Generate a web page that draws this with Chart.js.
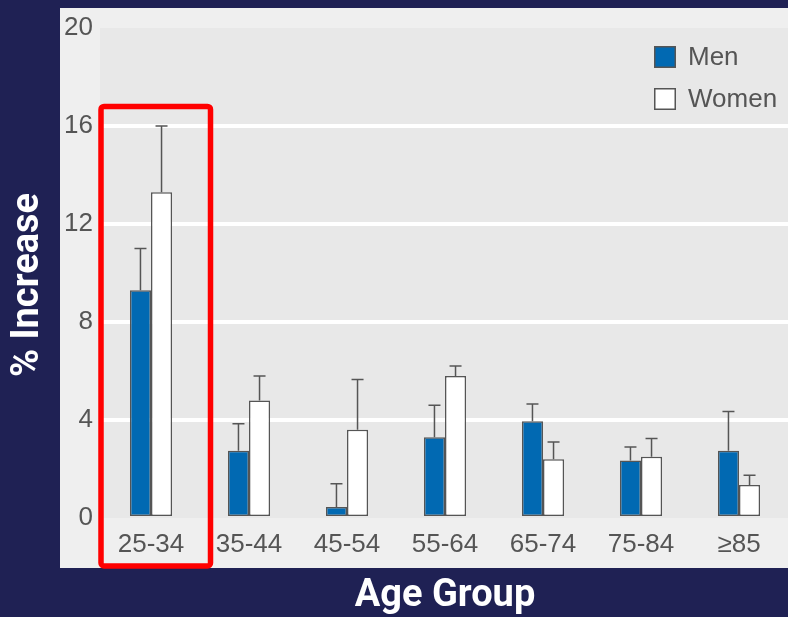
<!DOCTYPE html>
<html>
<head>
<meta charset="utf-8">
<script src="https://cdn.jsdelivr.net/npm/chart.js@4.4.1/dist/chart.umd.min.js"></script>
<style>
  html, body { margin: 0; padding: 0; background: #1f2154; }
  #wrap { width: 788px; height: 617px; }
</style>
</head>
<body>
<div id="wrap"><canvas id="c" width="788" height="617"></canvas></div>
<script>
// Percentage increase by age group, with upper error limits
const ageGroups  = ['25-34', '35-44', '45-54', '55-64', '65-74', '75-84', '≥85'];
const menValues  = [9.3, 2.75, 0.45, 3.3, 3.95, 2.35, 2.75];
const menUpper   = [11.0, 3.85, 1.4, 4.6, 4.65, 2.9, 4.35];
const womenValues = [13.3, 4.8, 3.6, 5.8, 2.4, 2.5, 1.35];
const womenUpper  = [16.0, 5.8, 5.65, 6.2, 3.1, 3.25, 1.75];
const yTicks = [0, 4, 8, 12, 16, 20];

const NAVY = '#1f2154';
const INK = '#555555';
const TICK_FONT = "'Liberation Sans Narrow', 'Liberation Sans', sans-serif";
const TICK_SIZE = 26;
const TITLE_FONT = "Roboto, 'Liberation Sans', sans-serif";

// Page, panel and plot backgrounds
const backdrop = {
  id: 'backdrop',
  beforeDraw(chart) {
    const { ctx, chartArea: a } = chart;
    ctx.save();
    ctx.fillStyle = NAVY;
    ctx.fillRect(0, 0, chart.width, chart.height);
    ctx.fillStyle = '#efefef';
    ctx.fillRect(a.left - 42, a.top - 20, chart.width - (a.left - 42), a.bottom - a.top + 70);
    ctx.fillStyle = '#e8e8e8';
    ctx.fillRect(a.left - 2, a.top, a.right - a.left + 2, a.bottom - a.top);
    ctx.restore();
  }
};

// Upper error whiskers on each bar
const whiskers = {
  id: 'whiskers',
  afterDatasetsDraw(chart) {
    const { ctx } = chart;
    const y = chart.scales.y;
    ctx.save();
    ctx.strokeStyle = INK;
    ctx.lineWidth = 1.5;
    chart.data.datasets.forEach((ds, d) => {
      const meta = chart.getDatasetMeta(d);
      meta.data.forEach((bar, i) => {
        const top = y.getPixelForValue(ds.upper[i]);
        ctx.beginPath();
        ctx.moveTo(bar.x, bar.y);
        ctx.lineTo(bar.x, top);
        ctx.moveTo(bar.x - 6, top);
        ctx.lineTo(bar.x + 6, top);
        ctx.stroke();
      });
    });
    ctx.restore();
  }
};

// Legend box in the top-right corner, title on the left, highlight frame
const overlay = {
  id: 'overlay',
  afterDraw(chart) {
    const { ctx, chartArea: a } = chart;
    const x = chart.scales.x, y = chart.scales.y;
    ctx.save();

    // legend
    ctx.font = TICK_SIZE + 'px ' + TICK_FONT;
    ctx.textBaseline = 'middle';
    ctx.textAlign = 'left';
    chart.data.datasets.forEach((ds, i) => {
      const bx = a.right - 134;
      const by = a.top + 18 + i * 42;
      ctx.fillStyle = ds.backgroundColor;
      ctx.fillRect(bx, by, 22, 22);
      ctx.strokeStyle = INK;
      ctx.lineWidth = 1.5;
      ctx.strokeRect(bx + 0.75, by + 0.75, 20.5, 20.5);
      ctx.fillStyle = INK;
      ctx.fillText(ds.label, bx + 34, by + 12);
    });

    // y-axis title
    ctx.translate(28.5, 285);
    ctx.rotate(-Math.PI / 2);
    ctx.font = 'bold 38px ' + TITLE_FONT;
    ctx.fillStyle = '#ffffff';
    ctx.textAlign = 'center';
    ctx.textBaseline = 'middle';
    ctx.fillText('% Increase', 0, 0);
    ctx.setTransform(1, 0, 0, 1, 0, 0);

    // red frame around the youngest group
    const cx = x.getPixelForValue(0);
    const left = cx - 50, right = cx + 59.5;
    const top = y.getPixelForValue(16.8), bottom = a.bottom + 48;
    ctx.strokeStyle = '#ff0000';
    ctx.lineWidth = 5.5;
    ctx.beginPath();
    ctx.roundRect(left, top, right - left, bottom - top, 3);
    ctx.stroke();
    ctx.restore();
  }
};

new Chart(document.getElementById('c'), {
  type: 'bar',
  data: {
    labels: ageGroups,
    datasets: [
      {
        label: 'Men',
        data: menValues,
        upper: menUpper,
        backgroundColor: '#0169b2',
        borderColor: INK,
        borderWidth: 1.5,
        borderSkipped: false
      },
      {
        label: 'Women',
        data: womenValues,
        upper: womenUpper,
        backgroundColor: '#ffffff',
        borderColor: INK,
        borderWidth: 1.5,
        borderSkipped: false
      }
    ]
  },
  options: {
    responsive: false,
    animation: false,
    devicePixelRatio: 1,
    layout: { padding: { top: 28, right: 0, left: 0, bottom: 0 } },
    datasets: { bar: { categoryPercentage: 0.43, barPercentage: 1.0 } },
    plugins: {
      legend: { display: false },
      tooltip: { enabled: false }
    },
    scales: {
      x: {
        grid: { display: false, drawTicks: false },
        border: { display: false },
        ticks: {
          color: INK,
          padding: 11,
          font: { family: TICK_FONT, size: TICK_SIZE }
        },
        title: {
          display: true,
          text: 'Age Group',
          color: '#ffffff',
          padding: { top: 0, bottom: 2 },
          font: { family: TITLE_FONT, size: 38, weight: 'bold', lineHeight: 1 }
        },
        afterFit(scale) { scale.height = 99; }
      },
      y: {
        min: 0,
        max: 20,
        afterBuildTicks(scale) { scale.ticks = yTicks.map(v => ({ value: v })); },
        grid: {
          drawTicks: false,
          lineWidth: 4,
          color: (c) => (c.tick && c.tick.value > 0 && c.tick.value < 20) ? '#ffffff' : 'rgba(0,0,0,0)'
        },
        border: { display: false },
        ticks: {
          color: INK,
          padding: 9,
          font: { family: TICK_FONT, size: TICK_SIZE }
        },
        afterFit(scale) { scale.width = 102; }
      }
    }
  },
  plugins: [backdrop, whiskers, overlay]
});
</script>
</body>
</html>
